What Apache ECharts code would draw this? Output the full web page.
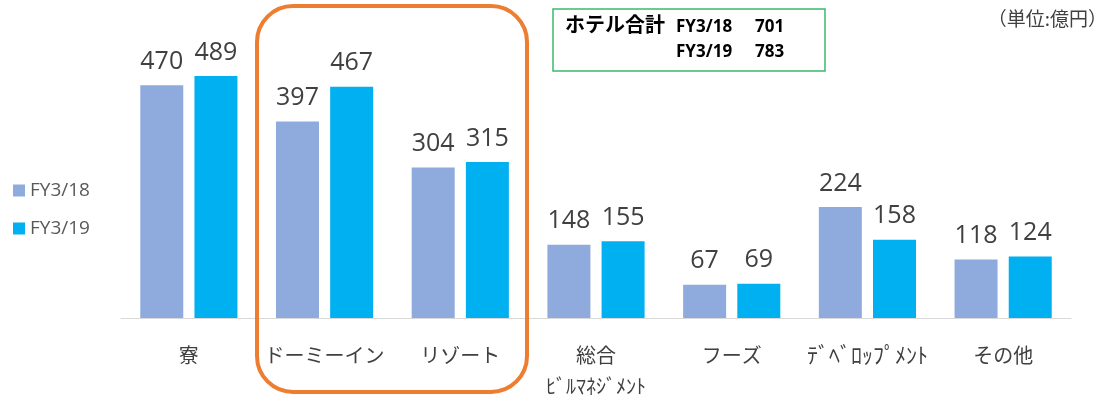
<!DOCTYPE html>
<html><head><meta charset="utf-8">
<script src="https://cdn.jsdelivr.net/npm/echarts@6/dist/echarts.min.js"></script>
<style>html,body{margin:0;padding:0;background:#fff}#c{width:1119px;height:401px}</style>
</head><body><div id="c"></div>
<script>
const categories = ['寮', 'ドーミーイン', 'リゾート', '総合\nﾋﾞﾙﾏﾈｼﾞﾒﾝﾄ', 'フーズ', 'ﾃﾞﾍﾞﾛｯﾌﾟﾒﾝﾄ', 'その他'];
const fy18 = [470, 397, 304, 148, 67, 224, 118];
const fy19 = [489, 467, 315, 155, 69, 158, 124];
const seriesNames = ['FY3/18', 'FY3/19'];
const hotelTotal = {label: 'ホテル合計', rows: [['FY3/18', 701], ['FY3/19', 783]]};
const unitLabel = '（単位:億円）';

const chart = echarts.init(document.getElementById('c'), null, {renderer: 'canvas'});
const font = '"Noto Sans CJK JP", "Noto Sans", sans-serif';
const latin = '"Open Sans", "Noto Sans", sans-serif';
const lbl = {show: true, position: 'top', distance: 11, fontSize: 25, color: '#404040', fontFamily: latin};
chart.setOption({
  animation: false,
  grid: {left: 121, right: 48, top: 21, bottom: 82},
  legend: {
    orient: 'vertical', left: 8, top: 176, itemWidth: 12, itemHeight: 12, itemGap: 19,
    icon: 'rect',
    textStyle: {fontSize: 19, color: '#595959', fontFamily: latin},
    data: seriesNames
  },
  xAxis: {
    type: 'category', data: categories,
    axisLine: {lineStyle: {color: '#D9D9D9', width: 1}},
    axisTick: {show: false},
    axisLabel: {
      interval: 0, margin: 21, fontSize: 20, color: '#404040', fontFamily: font, lineHeight: 32,
      formatter: function (v) {
        const p = v.split('\n');
        if (p.length > 1) return p[0] + '\n{s|' + p[1] + '}';
        if (/^[\uFF61-\uFF9F]+$/.test(v)) return '{h|' + v + '}';
        return v;
      },
      rich: {
        s: {fontSize: 20, color: '#404040', fontFamily: font, lineHeight: 30},
        h: {fontSize: 22, color: '#404040', fontFamily: font, lineHeight: 32}
      }
    }
  },
  yAxis: {type: 'value', min: 0, max: 600, show: false, splitLine: {show: false}},
  series: [
    {name: seriesNames[0], type: 'bar', data: fy18, barWidth: 43, barGap: '26%', itemStyle: {color: '#8FAADC'}, label: lbl},
    {name: seriesNames[1], type: 'bar', data: fy19, barWidth: 43, itemStyle: {color: '#00B0F0'}, label: lbl}
  ],
  graphic: [
    {type: 'rect', shape: {x: 257, y: 6, width: 270, height: 386, r: 36}, style: {fill: 'none', stroke: '#ED7D31', lineWidth: 4}, z: 10},
    {type: 'rect', shape: {x: 553, y: 9, width: 272, height: 62}, style: {fill: '#fff', stroke: '#3CB96A', lineWidth: 1.5}, z: 10},
    {type: 'text', left: 565, top: 14, style: {text: hotelTotal.label, fontSize: 20, fontWeight: 'bold', fill: '#000', fontFamily: font}, z: 11},
    {type: 'text', left: 676, top: 19, style: {text: hotelTotal.rows[0][0], fontSize: 17, fontWeight: 'bold', fill: '#000', fontFamily: latin}, z: 11},
    {type: 'text', left: 755, top: 19, style: {text: String(hotelTotal.rows[0][1]), fontSize: 17, fontWeight: 'bold', fill: '#000', fontFamily: latin}, z: 11},
    {type: 'text', left: 676, top: 44, style: {text: hotelTotal.rows[1][0], fontSize: 17, fontWeight: 'bold', fill: '#000', fontFamily: latin}, z: 11},
    {type: 'text', left: 755, top: 44, style: {text: String(hotelTotal.rows[1][1]), fontSize: 17, fontWeight: 'bold', fill: '#000', fontFamily: latin}, z: 11},
    {type: 'text', right: 12, top: 9, style: {text: unitLabel, fontSize: 19, fill: '#404040', fontFamily: font}, z: 11}
  ]
});
</script></body></html>
